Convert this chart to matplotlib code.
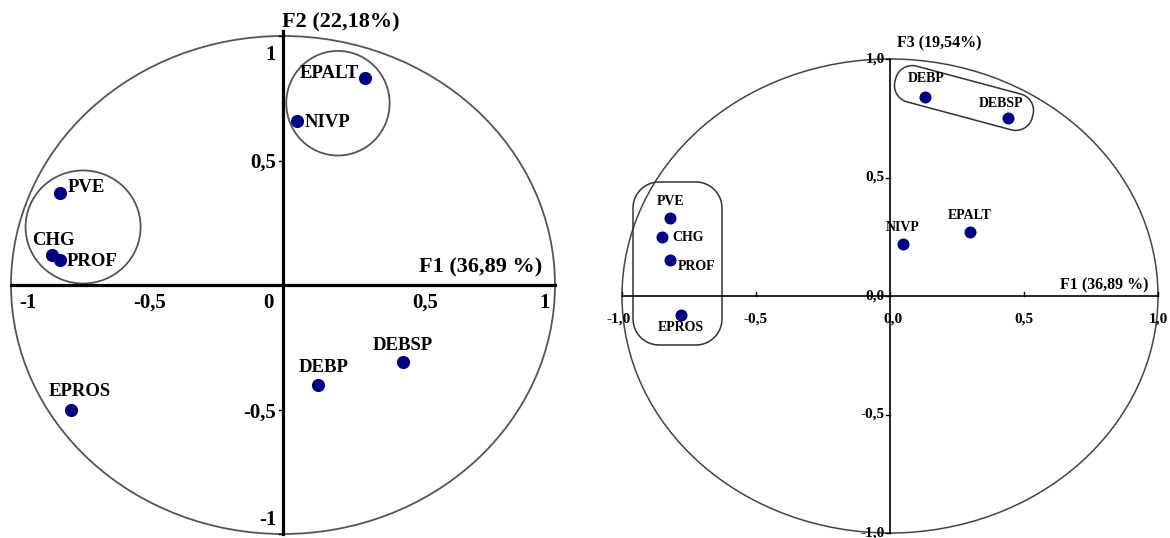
import numpy as np
import matplotlib.pyplot as plt
from matplotlib.patches import Ellipse, Polygon

# variables and their correlations with the factors
variables = ['EPALT', 'NIVP', 'PVE', 'CHG', 'PROF', 'EPROS', 'DEBP', 'DEBSP']
f1 = [0.30, 0.05, -0.82, -0.85, -0.82, -0.78, 0.13, 0.44]
f2 = [0.83, 0.66, 0.37, 0.12, 0.10, -0.50, -0.40, -0.31]
f3 = [0.27, 0.22, 0.33, 0.25, 0.15, -0.08, 0.84, 0.75]

f1_title = 'F1 (36,89 %)'
f2_title = 'F2 (22,18%)'
f3_title = 'F3 (19,54%)'

ticks = [-1, -0.5, 0, 0.5, 1]
left_ticklabels = ['-1', '-0,5', '0', '0,5', '1']
right_ticklabels = ['-1,0', '-0,5', '0,0', '0,5', '1,0']

# label placement (pixels, ha)
left_off = {'EPALT': (-6, 5, 'right'), 'NIVP': (8, -2, 'left'), 'PVE': (8, 5, 'left'),
            'CHG': (2, 15, 'center'), 'PROF': (7, -1, 'left'), 'EPROS': (9, 18, 'center'),
            'DEBP': (5, 17, 'center'), 'DEBSP': (0, 17, 'center')}
right_off = {'EPALT': (-1, 17, 'center'), 'NIVP': (-1, 16, 'center'), 'PVE': (0, 16, 'center'),
             'CHG': (10, -1, 'left'), 'PROF': (8, -6, 'left'), 'EPROS': (0, -13, 'center'),
             'DEBP': (1, 18, 'center'), 'DEBSP': (-7, 15, 'center')}

FONT = 'Liberation Serif'
DOT = '#000080'


def rounded_box(cx, cy, w, h, r, ang, n=12):
    pts = []
    corners = [(w/2 - r, h/2 - r, 0), (-w/2 + r, h/2 - r, 90),
               (-w/2 + r, -h/2 + r, 180), (w/2 - r, -h/2 + r, 270)]
    for x0, y0, a0 in corners:
        t = np.radians(np.linspace(a0, a0 + 90, n))
        pts += list(zip(x0 + r*np.cos(t), y0 + r*np.sin(t)))
    pts = np.array(pts)
    c, s = np.cos(np.radians(ang)), np.sin(np.radians(ang))
    return pts @ np.array([[c, s], [-s, c]]) + [cx, cy]


fig = plt.figure(figsize=(11.7, 5.38), dpi=100)

# ---------- left panel : F1 x F2 ----------
ax1 = fig.add_axes([0, 0, 0.5, 1])
rx, ry = 272, 249
ax1.set_xlim(-283/rx, (585-283)/rx)
ax1.set_ylim(-(538-285)/ry, 285/ry)
ax1.axis('off')

ax1.add_patch(Ellipse((0, 0), 2, 2, fill=False, ec='#555555', lw=1.3, clip_on=False))
ax1.plot([-1, 1], [0, 0], color='black', lw=2.3)
ax1.plot([0, 0], [-1, 1.02], color='black', lw=2.3)
ax1.add_patch(Ellipse((0.202, 0.73), 0.38, 0.42, fill=False, ec='#555555', lw=1.3))
ax1.add_patch(Ellipse((-0.735, 0.233), 0.423, 0.454, fill=False, ec='#555555', lw=1.3))

ax1.scatter(f1, f2, s=90, color=DOT, zorder=5, lw=0)
for name, x, y in zip(variables, f1, f2):
    dx, dy, ha = left_off[name]
    ax1.annotate(name, (x, y), xytext=(dx, dy), textcoords='offset pixels', ha=ha, va='center',
                 family=FONT, weight='bold', fontsize=13.5)

xoff = {-1: 17, -0.5: 3, 0: -15, 0.5: 6, 1: -10}
for t, lab in zip(ticks, left_ticklabels):
    ax1.annotate(lab, (t, 0), xytext=(xoff[t], -18), textcoords='offset pixels', ha='center',
                 va='center', family=FONT, weight='bold', fontsize=15)
yoff = {-1: 14, -0.5: -3, 0.5: -2, 1: -19}
for t, lab in zip(ticks, left_ticklabels):
    if t == 0:
        continue
    ax1.annotate(lab, (0, t), xytext=(-7, yoff[t]), textcoords='offset pixels', ha='right',
                 va='center', family=FONT, weight='bold', fontsize=15)
    ax1.plot([-4/rx, 0], [t, t], color='black', lw=1)

ax1.annotate(f2_title, (0, 285/ry), xytext=(-1, -22), textcoords='offset pixels', ha='left',
             va='center', family=FONT, weight='bold', fontsize=16)
ax1.annotate(f1_title, (1, 0), xytext=(-13, 18), textcoords='offset pixels', ha='right',
             va='center', family=FONT, weight='bold', fontsize=16)

# ---------- right panel : F1 x F3 ----------
ax2 = fig.add_axes([0.5, 0, 0.5, 1])
sx, sy = 268, 237
ax2.set_xlim(-(890-585)/sx, (1170-890)/sx)
ax2.set_ylim(-(538-296)/sy, 296/sy)
ax2.axis('off')

ax2.add_patch(Ellipse((0, 0), 2, 2, fill=False, ec='#444444', lw=1.1, clip_on=False))
ax2.plot([-1, 1], [0, 0], color='black', lw=1.2)
ax2.plot([0, 0], [-1, 1], color='black', lw=1.2)

box_top = rounded_box(74, 198, 142, 37, 17, -15) / [sx, sy]
box_left = rounded_box(-212.5, 32.5, 89, 163, 26, 0) / [sx, sy]
ax2.add_patch(Polygon(box_top, closed=True, fill=False, ec='#333333', lw=1.1))
ax2.add_patch(Polygon(box_left, closed=True, fill=False, ec='#333333', lw=1.1))

ax2.scatter(f1, f3, s=75, color=DOT, zorder=5, lw=0)
for name, x, y in zip(variables, f1, f3):
    dx, dy, ha = right_off[name]
    ax2.annotate(name, (x, y), xytext=(dx, dy), textcoords='offset pixels', ha=ha, va='center',
                 family=FONT, weight='bold', fontsize=10)

xoff2 = {-1: -3, -0.5: 0, 0: 3, 0.5: 0, 1: 0}
for t, lab in zip(ticks, right_ticklabels):
    ax2.annotate(lab, (t, 0), xytext=(xoff2[t], -23), textcoords='offset pixels', ha='center',
                 va='center', family=FONT, weight='bold', fontsize=11)
    ax2.plot([t, t], [0, 4/sy], color='black', lw=1)
    ax2.annotate(lab, (0, t), xytext=(-5, 0), textcoords='offset pixels', ha='right',
                 va='center', family=FONT, weight='bold', fontsize=11)
    ax2.plot([-4/sx, 0], [t, t], color='black', lw=1)

ax2.annotate(f3_title, (0, 1), xytext=(7, 16), textcoords='offset pixels', ha='left',
             va='center', family=FONT, weight='bold', fontsize=11.5)
ax2.annotate(f1_title, (1, 0), xytext=(-10, 11), textcoords='offset pixels', ha='right',
             va='center', family=FONT, weight='bold', fontsize=11.5)

fig.savefig('out.png', dpi=100)
